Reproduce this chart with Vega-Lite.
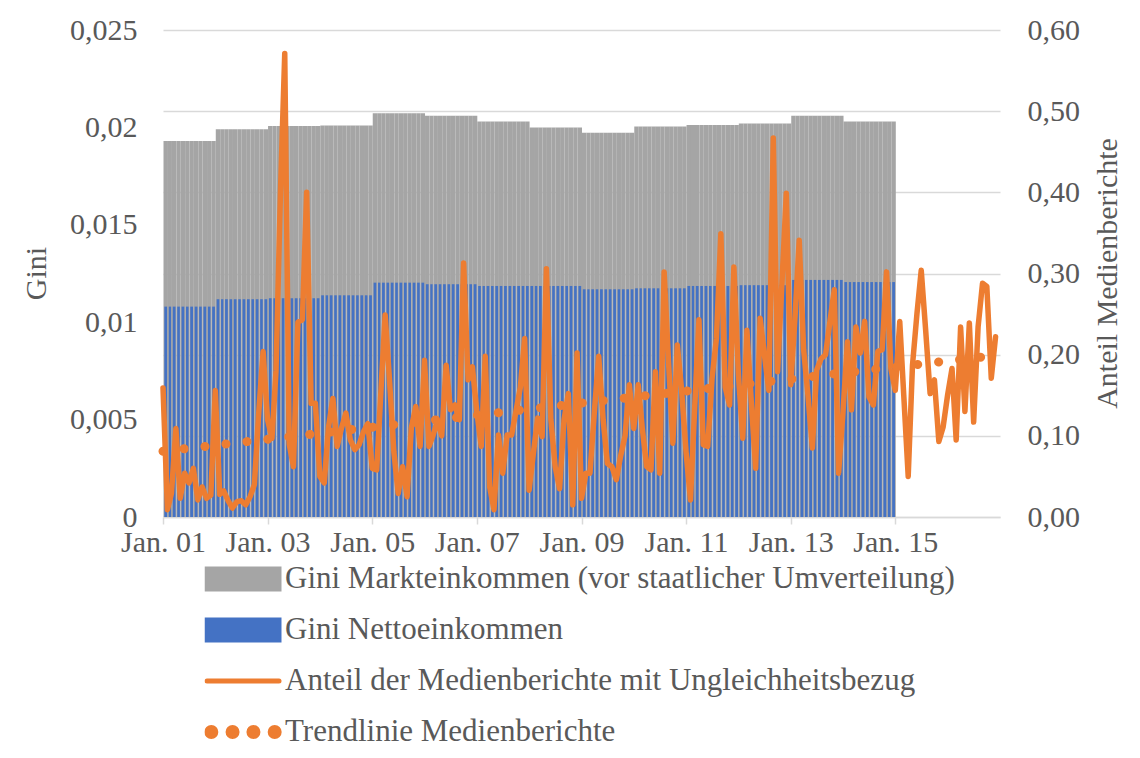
{
  "$schema": "https://vega.github.io/schema/vega-lite/v6.json",
  "width": 837,
  "height": 487,
  "autosize": {"type": "none"},
  "padding": {"left": 163, "top": 30, "right": 140, "bottom": 241},
  "background": "#ffffff",
  "config": {
    "view": {"stroke": null},
    "font": "Liberation Serif",
    "axis": {"labelFont": "Liberation Serif", "titleFont": "Liberation Serif", "labelColor": "#595959", "titleColor": "#595959", "labelFontSize": 30, "titleFontSize": 30, "titleFontWeight": "normal"}
  },
  "datasets": {
    "bars": [
      {"d":"2001-01-01","m":0.0193,"n":0.0108},{"d":"2001-02-01","m":0.0193,"n":0.0108},{"d":"2001-03-01","m":0.0193,"n":0.0108},{"d":"2001-04-01","m":0.0193,"n":0.0108},{"d":"2001-05-01","m":0.0193,"n":0.0108},{"d":"2001-06-01","m":0.0193,"n":0.0108},{"d":"2001-07-01","m":0.0193,"n":0.0108},{"d":"2001-08-01","m":0.0193,"n":0.0108},{"d":"2001-09-01","m":0.0193,"n":0.0108},{"d":"2001-10-01","m":0.0193,"n":0.0108},{"d":"2001-11-01","m":0.0193,"n":0.0108},{"d":"2001-12-01","m":0.0193,"n":0.0108},
      {"d":"2002-01-01","m":0.0199,"n":0.01118},{"d":"2002-02-01","m":0.0199,"n":0.01118},{"d":"2002-03-01","m":0.0199,"n":0.01118},{"d":"2002-04-01","m":0.0199,"n":0.01118},{"d":"2002-05-01","m":0.0199,"n":0.01118},{"d":"2002-06-01","m":0.0199,"n":0.01118},{"d":"2002-07-01","m":0.0199,"n":0.01118},{"d":"2002-08-01","m":0.0199,"n":0.01118},{"d":"2002-09-01","m":0.0199,"n":0.01118},{"d":"2002-10-01","m":0.0199,"n":0.01118},{"d":"2002-11-01","m":0.0199,"n":0.01118},{"d":"2002-12-01","m":0.0199,"n":0.01118},
      {"d":"2003-01-01","m":0.02007,"n":0.01123},{"d":"2003-02-01","m":0.02007,"n":0.01123},{"d":"2003-03-01","m":0.02007,"n":0.01123},{"d":"2003-04-01","m":0.02007,"n":0.01123},{"d":"2003-05-01","m":0.02007,"n":0.01123},{"d":"2003-06-01","m":0.02007,"n":0.01123},{"d":"2003-07-01","m":0.02007,"n":0.01123},{"d":"2003-08-01","m":0.02007,"n":0.01123},{"d":"2003-09-01","m":0.02007,"n":0.01123},{"d":"2003-10-01","m":0.02007,"n":0.01123},{"d":"2003-11-01","m":0.02007,"n":0.01123},{"d":"2003-12-01","m":0.02007,"n":0.01123},
      {"d":"2004-01-01","m":0.0201,"n":0.01138},{"d":"2004-02-01","m":0.0201,"n":0.01138},{"d":"2004-03-01","m":0.0201,"n":0.01138},{"d":"2004-04-01","m":0.0201,"n":0.01138},{"d":"2004-05-01","m":0.0201,"n":0.01138},{"d":"2004-06-01","m":0.0201,"n":0.01138},{"d":"2004-07-01","m":0.0201,"n":0.01138},{"d":"2004-08-01","m":0.0201,"n":0.01138},{"d":"2004-09-01","m":0.0201,"n":0.01138},{"d":"2004-10-01","m":0.0201,"n":0.01138},{"d":"2004-11-01","m":0.0201,"n":0.01138},{"d":"2004-12-01","m":0.0201,"n":0.01138},
      {"d":"2005-01-01","m":0.02072,"n":0.01203},{"d":"2005-02-01","m":0.02072,"n":0.01203},{"d":"2005-03-01","m":0.02072,"n":0.01203},{"d":"2005-04-01","m":0.02072,"n":0.01203},{"d":"2005-05-01","m":0.02072,"n":0.01203},{"d":"2005-06-01","m":0.02072,"n":0.01203},{"d":"2005-07-01","m":0.02072,"n":0.01203},{"d":"2005-08-01","m":0.02072,"n":0.01203},{"d":"2005-09-01","m":0.02072,"n":0.01203},{"d":"2005-10-01","m":0.02072,"n":0.01203},{"d":"2005-11-01","m":0.02072,"n":0.01203},{"d":"2005-12-01","m":0.02072,"n":0.01203},
      {"d":"2006-01-01","m":0.0206,"n":0.01195},{"d":"2006-02-01","m":0.0206,"n":0.01195},{"d":"2006-03-01","m":0.0206,"n":0.01195},{"d":"2006-04-01","m":0.0206,"n":0.01195},{"d":"2006-05-01","m":0.0206,"n":0.01195},{"d":"2006-06-01","m":0.0206,"n":0.01195},{"d":"2006-07-01","m":0.0206,"n":0.01195},{"d":"2006-08-01","m":0.0206,"n":0.01195},{"d":"2006-09-01","m":0.0206,"n":0.01195},{"d":"2006-10-01","m":0.0206,"n":0.01195},{"d":"2006-11-01","m":0.0206,"n":0.01195},{"d":"2006-12-01","m":0.0206,"n":0.01195},
      {"d":"2007-01-01","m":0.0203,"n":0.01186},{"d":"2007-02-01","m":0.0203,"n":0.01186},{"d":"2007-03-01","m":0.0203,"n":0.01186},{"d":"2007-04-01","m":0.0203,"n":0.01186},{"d":"2007-05-01","m":0.0203,"n":0.01186},{"d":"2007-06-01","m":0.0203,"n":0.01186},{"d":"2007-07-01","m":0.0203,"n":0.01186},{"d":"2007-08-01","m":0.0203,"n":0.01186},{"d":"2007-09-01","m":0.0203,"n":0.01186},{"d":"2007-10-01","m":0.0203,"n":0.01186},{"d":"2007-11-01","m":0.0203,"n":0.01186},{"d":"2007-12-01","m":0.0203,"n":0.01186},
      {"d":"2008-01-01","m":0.0200,"n":0.01186},{"d":"2008-02-01","m":0.0200,"n":0.01186},{"d":"2008-03-01","m":0.0200,"n":0.01186},{"d":"2008-04-01","m":0.0200,"n":0.01186},{"d":"2008-05-01","m":0.0200,"n":0.01186},{"d":"2008-06-01","m":0.0200,"n":0.01186},{"d":"2008-07-01","m":0.0200,"n":0.01186},{"d":"2008-08-01","m":0.0200,"n":0.01186},{"d":"2008-09-01","m":0.0200,"n":0.01186},{"d":"2008-10-01","m":0.0200,"n":0.01186},{"d":"2008-11-01","m":0.0200,"n":0.01186},{"d":"2008-12-01","m":0.0200,"n":0.01186},
      {"d":"2009-01-01","m":0.01973,"n":0.01169},{"d":"2009-02-01","m":0.01973,"n":0.01169},{"d":"2009-03-01","m":0.01973,"n":0.01169},{"d":"2009-04-01","m":0.01973,"n":0.01169},{"d":"2009-05-01","m":0.01973,"n":0.01169},{"d":"2009-06-01","m":0.01973,"n":0.01169},{"d":"2009-07-01","m":0.01973,"n":0.01169},{"d":"2009-08-01","m":0.01973,"n":0.01169},{"d":"2009-09-01","m":0.01973,"n":0.01169},{"d":"2009-10-01","m":0.01973,"n":0.01169},{"d":"2009-11-01","m":0.01973,"n":0.01169},{"d":"2009-12-01","m":0.01973,"n":0.01169},
      {"d":"2010-01-01","m":0.02004,"n":0.01174},{"d":"2010-02-01","m":0.02004,"n":0.01174},{"d":"2010-03-01","m":0.02004,"n":0.01174},{"d":"2010-04-01","m":0.02004,"n":0.01174},{"d":"2010-05-01","m":0.02004,"n":0.01174},{"d":"2010-06-01","m":0.02004,"n":0.01174},{"d":"2010-07-01","m":0.02004,"n":0.01174},{"d":"2010-08-01","m":0.02004,"n":0.01174},{"d":"2010-09-01","m":0.02004,"n":0.01174},{"d":"2010-10-01","m":0.02004,"n":0.01174},{"d":"2010-11-01","m":0.02004,"n":0.01174},{"d":"2010-12-01","m":0.02004,"n":0.01174},
      {"d":"2011-01-01","m":0.02012,"n":0.01186},{"d":"2011-02-01","m":0.02012,"n":0.01186},{"d":"2011-03-01","m":0.02012,"n":0.01186},{"d":"2011-04-01","m":0.02012,"n":0.01186},{"d":"2011-05-01","m":0.02012,"n":0.01186},{"d":"2011-06-01","m":0.02012,"n":0.01186},{"d":"2011-07-01","m":0.02012,"n":0.01186},{"d":"2011-08-01","m":0.02012,"n":0.01186},{"d":"2011-09-01","m":0.02012,"n":0.01186},{"d":"2011-10-01","m":0.02012,"n":0.01186},{"d":"2011-11-01","m":0.02012,"n":0.01186},{"d":"2011-12-01","m":0.02012,"n":0.01186},
      {"d":"2012-01-01","m":0.0202,"n":0.0119},{"d":"2012-02-01","m":0.0202,"n":0.0119},{"d":"2012-03-01","m":0.0202,"n":0.0119},{"d":"2012-04-01","m":0.0202,"n":0.0119},{"d":"2012-05-01","m":0.0202,"n":0.0119},{"d":"2012-06-01","m":0.0202,"n":0.0119},{"d":"2012-07-01","m":0.0202,"n":0.0119},{"d":"2012-08-01","m":0.0202,"n":0.0119},{"d":"2012-09-01","m":0.0202,"n":0.0119},{"d":"2012-10-01","m":0.0202,"n":0.0119},{"d":"2012-11-01","m":0.0202,"n":0.0119},{"d":"2012-12-01","m":0.0202,"n":0.0119},
      {"d":"2013-01-01","m":0.0206,"n":0.01217},{"d":"2013-02-01","m":0.0206,"n":0.01217},{"d":"2013-03-01","m":0.0206,"n":0.01217},{"d":"2013-04-01","m":0.0206,"n":0.01217},{"d":"2013-05-01","m":0.0206,"n":0.01217},{"d":"2013-06-01","m":0.0206,"n":0.01217},{"d":"2013-07-01","m":0.0206,"n":0.01217},{"d":"2013-08-01","m":0.0206,"n":0.01217},{"d":"2013-09-01","m":0.0206,"n":0.01217},{"d":"2013-10-01","m":0.0206,"n":0.01217},{"d":"2013-11-01","m":0.0206,"n":0.01217},{"d":"2013-12-01","m":0.0206,"n":0.01217},
      {"d":"2014-01-01","m":0.0203,"n":0.01206},{"d":"2014-02-01","m":0.0203,"n":0.01206},{"d":"2014-03-01","m":0.0203,"n":0.01206},{"d":"2014-04-01","m":0.0203,"n":0.01206},{"d":"2014-05-01","m":0.0203,"n":0.01206},{"d":"2014-06-01","m":0.0203,"n":0.01206},{"d":"2014-07-01","m":0.0203,"n":0.01206},{"d":"2014-08-01","m":0.0203,"n":0.01206},{"d":"2014-09-01","m":0.0203,"n":0.01206},{"d":"2014-10-01","m":0.0203,"n":0.01206},{"d":"2014-11-01","m":0.0203,"n":0.01206},{"d":"2014-12-01","m":0.0203,"n":0.01206}
    ],
    "media": [
      {"d":"2001-01-01","v":0.159},{"d":"2001-02-01","v":0.009},{"d":"2001-03-01","v":0.029},{"d":"2001-04-01","v":0.109},{"d":"2001-05-01","v":0.023},{"d":"2001-06-01","v":0.054},{"d":"2001-07-01","v":0.042},{"d":"2001-08-01","v":0.060},{"d":"2001-09-01","v":0.021},{"d":"2001-10-01","v":0.037},{"d":"2001-11-01","v":0.023},{"d":"2001-12-01","v":0.027},
      {"d":"2002-01-01","v":0.156},{"d":"2002-02-01","v":0.028},{"d":"2002-03-01","v":0.032},{"d":"2002-04-01","v":0.020},{"d":"2002-05-01","v":0.011},{"d":"2002-06-01","v":0.019},{"d":"2002-07-01","v":0.020},{"d":"2002-08-01","v":0.015},{"d":"2002-09-01","v":0.025},{"d":"2002-10-01","v":0.040},{"d":"2002-11-01","v":0.130},{"d":"2002-12-01","v":0.204},
      {"d":"2003-01-01","v":0.120},{"d":"2003-02-01","v":0.097},{"d":"2003-03-01","v":0.180},{"d":"2003-04-01","v":0.400},{"d":"2003-05-01","v":0.571},{"d":"2003-06-01","v":0.090},{"d":"2003-07-01","v":0.062},{"d":"2003-08-01","v":0.240},{"d":"2003-09-01","v":0.243},{"d":"2003-10-01","v":0.400},{"d":"2003-11-01","v":0.140},{"d":"2003-12-01","v":0.140},
      {"d":"2004-01-01","v":0.050},{"d":"2004-02-01","v":0.042},{"d":"2004-03-01","v":0.110},{"d":"2004-04-01","v":0.146},{"d":"2004-05-01","v":0.087},{"d":"2004-06-01","v":0.110},{"d":"2004-07-01","v":0.128},{"d":"2004-08-01","v":0.095},{"d":"2004-09-01","v":0.083},{"d":"2004-10-01","v":0.089},{"d":"2004-11-01","v":0.105},{"d":"2004-12-01","v":0.115},
      {"d":"2005-01-01","v":0.060},{"d":"2005-02-01","v":0.058},{"d":"2005-03-01","v":0.150},{"d":"2005-04-01","v":0.249},{"d":"2005-05-01","v":0.170},{"d":"2005-06-01","v":0.080},{"d":"2005-07-01","v":0.029},{"d":"2005-08-01","v":0.062},{"d":"2005-09-01","v":0.025},{"d":"2005-10-01","v":0.110},{"d":"2005-11-01","v":0.136},{"d":"2005-12-01","v":0.087},
      {"d":"2006-01-01","v":0.193},{"d":"2006-02-01","v":0.087},{"d":"2006-03-01","v":0.100},{"d":"2006-04-01","v":0.119},{"d":"2006-05-01","v":0.100},{"d":"2006-06-01","v":0.187},{"d":"2006-07-01","v":0.132},{"d":"2006-08-01","v":0.138},{"d":"2006-09-01","v":0.120},{"d":"2006-10-01","v":0.313},{"d":"2006-11-01","v":0.169},{"d":"2006-12-01","v":0.185},
      {"d":"2007-01-01","v":0.130},{"d":"2007-02-01","v":0.087},{"d":"2007-03-01","v":0.198},{"d":"2007-04-01","v":0.037},{"d":"2007-05-01","v":0.009},{"d":"2007-06-01","v":0.101},{"d":"2007-07-01","v":0.054},{"d":"2007-08-01","v":0.101},{"d":"2007-09-01","v":0.101},{"d":"2007-10-01","v":0.130},{"d":"2007-11-01","v":0.160},{"d":"2007-12-01","v":0.220},
      {"d":"2008-01-01","v":0.033},{"d":"2008-02-01","v":0.080},{"d":"2008-03-01","v":0.122},{"d":"2008-04-01","v":0.099},{"d":"2008-05-01","v":0.306},{"d":"2008-06-01","v":0.120},{"d":"2008-07-01","v":0.062},{"d":"2008-08-01","v":0.035},{"d":"2008-09-01","v":0.120},{"d":"2008-10-01","v":0.152},{"d":"2008-11-01","v":0.015},{"d":"2008-12-01","v":0.202},
      {"d":"2009-01-01","v":0.023},{"d":"2009-02-01","v":0.054},{"d":"2009-03-01","v":0.054},{"d":"2009-04-01","v":0.130},{"d":"2009-05-01","v":0.198},{"d":"2009-06-01","v":0.120},{"d":"2009-07-01","v":0.066},{"d":"2009-08-01","v":0.062},{"d":"2009-09-01","v":0.046},{"d":"2009-10-01","v":0.075},{"d":"2009-11-01","v":0.100},{"d":"2009-12-01","v":0.163},
      {"d":"2010-01-01","v":0.109},{"d":"2010-02-01","v":0.163},{"d":"2010-03-01","v":0.110},{"d":"2010-04-01","v":0.062},{"d":"2010-05-01","v":0.058},{"d":"2010-06-01","v":0.179},{"d":"2010-07-01","v":0.054},{"d":"2010-08-01","v":0.302},{"d":"2010-09-01","v":0.190},{"d":"2010-10-01","v":0.091},{"d":"2010-11-01","v":0.212},{"d":"2010-12-01","v":0.156},
      {"d":"2011-01-01","v":0.080},{"d":"2011-02-01","v":0.021},{"d":"2011-03-01","v":0.130},{"d":"2011-04-01","v":0.243},{"d":"2011-05-01","v":0.089},{"d":"2011-06-01","v":0.087},{"d":"2011-07-01","v":0.170},{"d":"2011-08-01","v":0.220},{"d":"2011-09-01","v":0.349},{"d":"2011-10-01","v":0.160},{"d":"2011-11-01","v":0.138},{"d":"2011-12-01","v":0.308},
      {"d":"2012-01-01","v":0.177},{"d":"2012-02-01","v":0.097},{"d":"2012-03-01","v":0.230},{"d":"2012-04-01","v":0.140},{"d":"2012-05-01","v":0.060},{"d":"2012-06-01","v":0.245},{"d":"2012-07-01","v":0.200},{"d":"2012-08-01","v":0.156},{"d":"2012-09-01","v":0.467},{"d":"2012-10-01","v":0.179},{"d":"2012-11-01","v":0.290},{"d":"2012-12-01","v":0.399},
      {"d":"2013-01-01","v":0.163},{"d":"2013-02-01","v":0.250},{"d":"2013-03-01","v":0.341},{"d":"2013-04-01","v":0.206},{"d":"2013-05-01","v":0.150},{"d":"2013-06-01","v":0.085},{"d":"2013-07-01","v":0.181},{"d":"2013-08-01","v":0.195},{"d":"2013-09-01","v":0.200},{"d":"2013-10-01","v":0.240},{"d":"2013-11-01","v":0.280},{"d":"2013-12-01","v":0.054},
      {"d":"2014-01-01","v":0.130},{"d":"2014-02-01","v":0.216},{"d":"2014-03-01","v":0.132},{"d":"2014-04-01","v":0.234},{"d":"2014-05-01","v":0.202},{"d":"2014-06-01","v":0.241},{"d":"2014-07-01","v":0.148},{"d":"2014-08-01","v":0.138},{"d":"2014-09-01","v":0.204},{"d":"2014-10-01","v":0.206},{"d":"2014-11-01","v":0.302},{"d":"2014-12-01","v":0.183},
      {"d":"2015-01-01","v":0.156},{"d":"2015-02-01","v":0.241},{"d":"2015-03-01","v":0.150},{"d":"2015-04-01","v":0.050},{"d":"2015-05-01","v":0.187},{"d":"2015-06-01","v":0.250},{"d":"2015-07-01","v":0.304},{"d":"2015-08-01","v":0.230},{"d":"2015-09-01","v":0.152},{"d":"2015-10-01","v":0.169},{"d":"2015-11-01","v":0.093},{"d":"2015-12-01","v":0.111},
      {"d":"2016-01-01","v":0.150},{"d":"2016-02-01","v":0.183},{"d":"2016-03-01","v":0.095},{"d":"2016-04-01","v":0.234},{"d":"2016-05-01","v":0.130},{"d":"2016-06-01","v":0.239},{"d":"2016-07-01","v":0.117},{"d":"2016-08-01","v":0.234},{"d":"2016-09-01","v":0.288},{"d":"2016-10-01","v":0.284},{"d":"2016-11-01","v":0.171},{"d":"2016-12-01","v":0.222}
    ],
    "trend": [
      {"d":"2001-01-01","t":0.081},{"d":"2016-12-01","t":0.199}
    ]
  },
  "layer": [
    {
      "data": {"name": "bars"},
      "layer": [
        {
          "mark": {"type": "bar", "binSpacing": 0},
          "encoding": {
            "x": {"field": "d", "timeUnit": "utcyearmonth", "type": "temporal",
                  "scale": {"type": "utc", "domain": [{"year": 2001, "month": 1, "date": 1, "utc": true}, {"year": 2017, "month": 1, "date": 1, "utc": true}]},
                  "axis": {"title": null, "values": [{"year": 2001, "month": 1, "date": 1, "utc": true}, {"year": 2003, "month": 1, "date": 1, "utc": true}, {"year": 2005, "month": 1, "date": 1, "utc": true}, {"year": 2007, "month": 1, "date": 1, "utc": true}, {"year": 2009, "month": 1, "date": 1, "utc": true}, {"year": 2011, "month": 1, "date": 1, "utc": true}, {"year": 2013, "month": 1, "date": 1, "utc": true}, {"year": 2015, "month": 1, "date": 1, "utc": true}],
                           "labelExpr": "'Jan. ' + utcFormat(datum.value, '%y')", "grid": false, "domainColor": "#D9D9D9", "domainWidth": 1.5, "tickColor": "#D9D9D9", "tickSize": 7, "tickWidth": 1.5, "labelPadding": 3, "labelFlush": false, "labelOverlap": false}},
            "y": {"field": "m", "type": "quantitative",
                  "scale": {"domain": [0, 0.025], "nice": false, "zero": true},
                  "axis": {"orient": "left", "title": "Gini", "values": [0, 0.005, 0.01, 0.015, 0.02, 0.025], "labelExpr": "replace(format(datum.value, '.3~f'), '.', ',')", "grid": false, "domain": false, "ticks": false, "labelPadding": 26, "titleX": -112, "titleY": 243, "titleAngle": 270, "titleAlign": "center", "titleBaseline": "bottom"}},
            "color": {"datum": "Gini Markteinkommen (vor staatlicher Umverteilung)", "type": "nominal",
                      "scale": {"domain": ["Gini Markteinkommen (vor staatlicher Umverteilung)", "Gini Nettoeinkommen", "Anteil der Medienberichte mit Ungleichheitsbezug", "Trendlinie Medienberichte"], "range": ["#A5A5A5", "#4472C4", "#ED7D31", "#ED7D31"]},
                      "legend": {"orient": "none", "legendX": 41.5, "legendY": 534, "direction": "vertical", "title": null, "padding": 0,
                                 "labelFont": "Liberation Serif", "labelFontSize": 31, "labelColor": "#595959", "labelOffset": 3.5, "labelLimit": 1000,
                                 "symbolSize": 5184, "symbolStrokeWidth": 5, "clipHeight": 30, "rowPadding": 20, "symbolType": "square",
                                 "encode": {"symbols": {"update": {
                                   "shape": {"signal": "indexof(datum.value, 'Gini') === 0 ? 'M-1,-0.28H1V0.28H-1Z' : (datum.value === 'Trendlinie Medienberichte' ? 'M-0.755,0A0.125,0.125 0 1,0 -1.005,0A0.125,0.125 0 1,0 -0.755,0ZM-0.165,0A0.125,0.125 0 1,0 -0.415,0A0.125,0.125 0 1,0 -0.165,0ZM0.415,0A0.125,0.125 0 1,0 0.165,0A0.125,0.125 0 1,0 0.415,0ZM1.005,0A0.125,0.125 0 1,0 0.755,0A0.125,0.125 0 1,0 1.005,0Z' : 'M-1,0H1')"},
                                   "fill": {"signal": "datum.value === 'Gini Nettoeinkommen' ? '#4472C4' : (datum.value === 'Anteil der Medienberichte mit Ungleichheitsbezug' ? 'transparent' : (datum.value === 'Trendlinie Medienberichte' ? '#ED7D31' : '#A5A5A5'))"},
                                   "stroke": {"signal": "datum.value === 'Anteil der Medienberichte mit Ungleichheitsbezug' ? '#ED7D31' : 'transparent'"},
                                   "strokeCap": {"value": "round"},
                                   "opacity": {"value": 1},
                                   "fillOpacity": {"value": 1},
                                   "strokeOpacity": {"value": 1}
                                 }}}}}
          }
        },
        {
          "mark": {"type": "bar", "binSpacing": 1.7},
          "encoding": {
            "x": {"field": "d", "timeUnit": "utcyearmonth", "type": "temporal"},
            "y": {"field": "n", "type": "quantitative"},
            "color": {"datum": "Gini Nettoeinkommen", "type": "nominal"}
          }
        }
      ]
    },
    {
      "layer": [
        {
          "data": {"name": "media"},
          "mark": {"type": "line", "strokeWidth": 5.5, "strokeJoin": "round", "strokeCap": "round"},
          "encoding": {
            "x": {"field": "d", "type": "temporal"},
            "y": {"field": "v", "type": "quantitative",
                  "scale": {"domain": [0, 0.6], "nice": false},
                  "axis": {"orient": "right", "title": "Anteil Medienberichte", "values": [0, 0.1, 0.2, 0.3, 0.4, 0.5, 0.6], "labelExpr": "replace(format(datum.value, '.2f'), '.', ',')", "grid": true, "gridColor": "#D9D9D9", "gridWidth": 1.5, "domain": false, "ticks": false, "labelPadding": 27, "titleAngle": 270, "titleX": 122, "titleY": 243, "titleAlign": "center", "titleBaseline": "bottom"}},
            "color": {"datum": "Anteil der Medienberichte mit Ungleichheitsbezug", "type": "nominal"}
          }
        },
        {
          "data": {"name": "trend"},
          "mark": {"type": "line", "strokeWidth": 9, "strokeDash": [0.1, 21], "strokeCap": "round"},
          "encoding": {
            "x": {"field": "d", "type": "temporal"},
            "y": {"field": "t", "type": "quantitative"},
            "color": {"datum": "Trendlinie Medienberichte", "type": "nominal"}
          }
        }
      ]
    }
  ],
  "resolve": {"scale": {"y": "independent"}}
}
